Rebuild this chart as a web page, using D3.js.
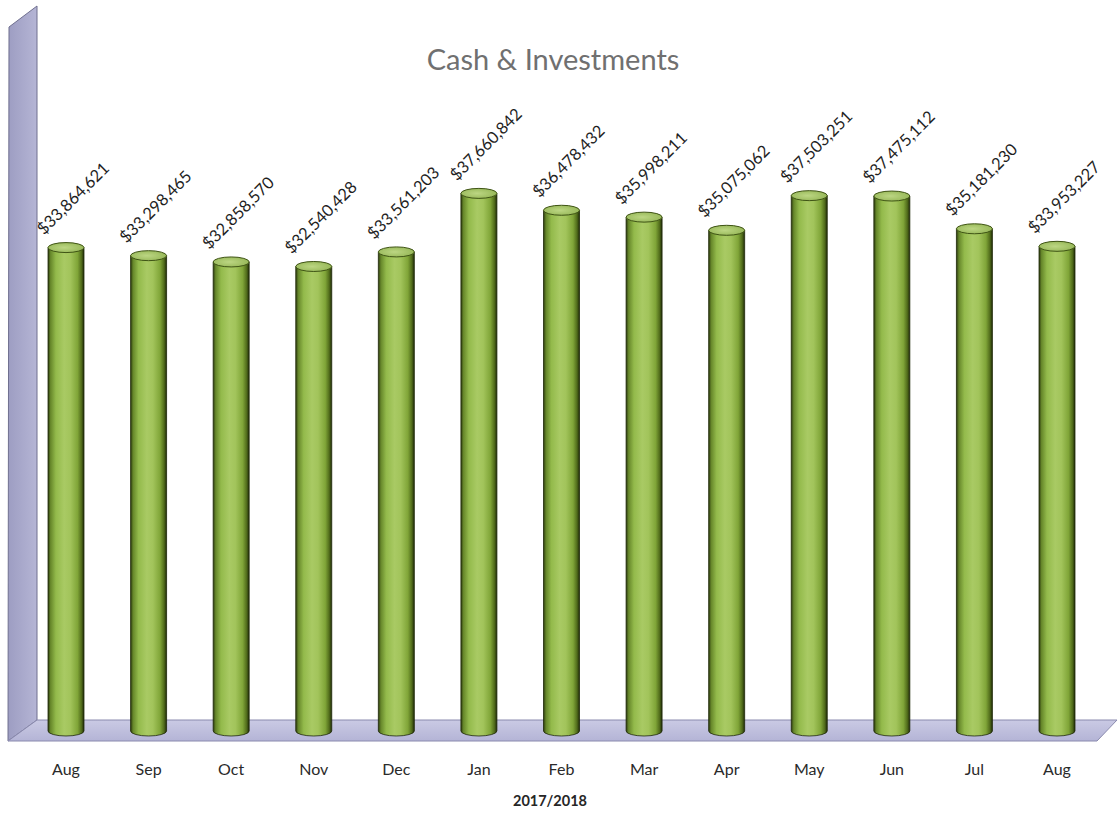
<!DOCTYPE html>
<html>
<head>
<meta charset="utf-8">
<script src="https://cdn.jsdelivr.net/npm/d3@7"></script>
<style>
  html, body { margin: 0; padding: 0; background: #fff; }
  svg { display: block; }
</style>
</head>
<body>
<svg id="chart" width="1119" height="813"></svg>
<script>
// Monthly cash & investments balances, Aug 2017 – Aug 2018
const months = ["Aug", "Sep", "Oct", "Nov", "Dec", "Jan", "Feb", "Mar", "Apr", "May", "Jun", "Jul", "Aug"];
const balances = [33864621, 33298465, 32858570, 32540428, 33561203, 37660842, 36478432,
                  35998211, 35075062, 37503251, 37475112, 35181230, 33953227];
const chartTitle = "Cash & Investments";
const axisTitle = "2017/2018";

const svg = d3.select("#chart");

// geometry of the 3D box
const floorY = 731;          // centre line of the cylinder bases
const backX = 37, frontX = 9;

const x = d3.scalePoint().domain(d3.range(months.length)).range([66, 1057]);
const y = d3.scaleLinear().domain([0, 40e6]).range([floorY, 160]);

const rx = 18, ry = 5;

const defs = svg.append("defs");

// wall gradient
const wg = defs.append("linearGradient").attr("id", "wallGrad")
  .attr("x1", "0").attr("x2", "1").attr("y1", "0").attr("y2", "0");
wg.append("stop").attr("offset", "0%").attr("stop-color", "#9d9dc2");
wg.append("stop").attr("offset", "100%").attr("stop-color", "#b5b5d5");

// floor gradient
const fg = defs.append("linearGradient").attr("id", "floorGrad")
  .attr("x1", "0").attr("x2", "0").attr("y1", "0").attr("y2", "1");
fg.append("stop").attr("offset", "0%").attr("stop-color", "#cacae4");
fg.append("stop").attr("offset", "100%").attr("stop-color", "#b4b4d6");

// cylinder body gradient
const cg = defs.append("linearGradient").attr("id", "cylGrad")
  .attr("x1", "0").attr("x2", "1").attr("y1", "0").attr("y2", "0");
[
  ["0%", "#2c3a0e"], ["7%", "#66872a"], ["22%", "#93ba4b"], ["45%", "#a9ca64"],
  ["62%", "#a2c45b"], ["82%", "#80a538"], ["93%", "#516c1b"], ["100%", "#1f2a08"]
].forEach(([o, c]) => cg.append("stop").attr("offset", o).attr("stop-color", c));

// top cap gradient
const tg = defs.append("radialGradient").attr("id", "capGrad")
  .attr("cx", "45%").attr("cy", "50%").attr("r", "60%");
tg.append("stop").attr("offset", "0%").attr("stop-color", "#bcd683");
tg.append("stop").attr("offset", "100%").attr("stop-color", "#95b656");

// left wall
svg.append("path")
  .attr("d", `M${frontX},27 L${backX},6 L${backX},${floorY - 11} L${frontX - 1},741 Z`)
  .attr("fill", "url(#wallGrad)")
  .attr("stroke", "#6f6f8f").attr("stroke-width", 1);

// floor
svg.append("path")
  .attr("d", `M${frontX - 1},741 L${backX},${floorY - 11} L1117,${floorY - 11} L1097,741 Z`)
  .attr("fill", "url(#floorGrad)")
  .attr("stroke", "#8a8aae").attr("stroke-width", 1);

// cylinders
const bars = svg.append("g").selectAll("g").data(balances).join("g");

bars.append("path")
  .attr("d", (d, i) => {
    const cx = x(i), top = y(d);
    return `M${cx - rx},${top} L${cx - rx},${floorY} A${rx},${ry} 0 0 0 ${cx + rx},${floorY} L${cx + rx},${top} Z`;
  })
  .attr("fill", "url(#cylGrad)")
  .attr("stroke", "#1e2808").attr("stroke-width", 0.8);

bars.append("ellipse")
  .attr("cx", (d, i) => x(i))
  .attr("cy", d => y(d))
  .attr("rx", rx).attr("ry", ry)
  .attr("fill", "url(#capGrad)")
  .attr("stroke", "#3f5415").attr("stroke-width", 1);

// value labels
const fmt = d3.format("$,");
bars.append("text")
  .attr("transform", (d, i) => `translate(${x(i) - 22},${y(d) - 12}) rotate(-45)`)
  .attr("font-family", "Lato, 'Open Sans', sans-serif")
  .attr("font-size", 16.5)
  .attr("fill", "#1f1f1f")
  .text(d => fmt(d));

// month labels
svg.append("g").selectAll("text").data(months).join("text")
  .attr("x", (d, i) => x(i))
  .attr("y", 775)
  .attr("text-anchor", "middle")
  .attr("font-family", "Lato, 'Open Sans', sans-serif")
  .attr("font-size", 16)
  .attr("fill", "#2a2a2a")
  .text(d => d);

// axis title
svg.append("text")
  .attr("x", 550).attr("y", 806)
  .attr("text-anchor", "middle")
  .attr("font-family", "Lato, 'Open Sans', sans-serif")
  .attr("font-size", 14.5).attr("font-weight", "bold")
  .attr("fill", "#262626")
  .text(axisTitle);

// chart title
svg.append("text")
  .attr("x", 553).attr("y", 70)
  .attr("text-anchor", "middle")
  .attr("font-family", "Lato, 'Open Sans', sans-serif")
  .attr("font-size", 29)
  .attr("fill", "#707070")
  .text(chartTitle);
</script>
</body>
</html>
